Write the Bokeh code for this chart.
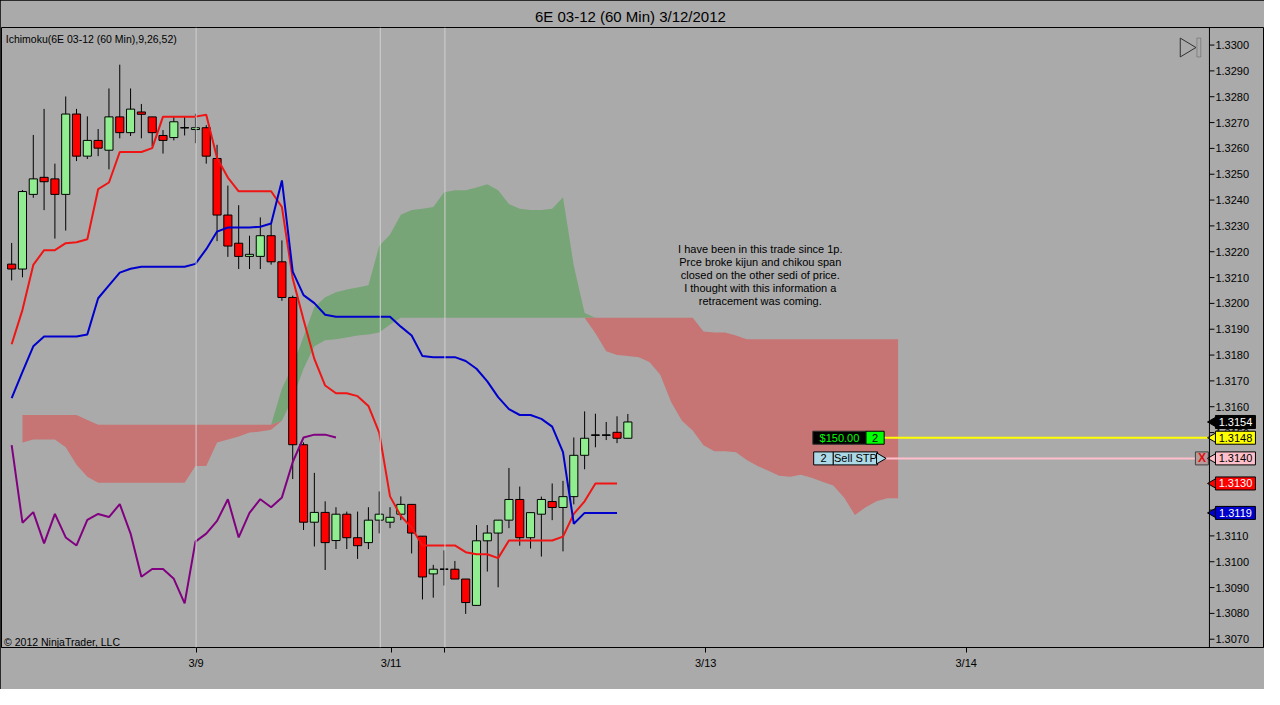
import numpy as np
from bokeh.plotting import figure
from bokeh.models import Range1d, FixedTicker, Label, Span, BoxAnnotation
from bokeh.core.properties import value
from bokeh.embed import file_html
from bokeh.resources import INLINE

# ---------------- data ----------------
opens = [1.32152, 1.32133, 1.32422, 1.32488, 1.32482, 1.32422, 1.32733, 1.32570, 1.32631, 1.32593,
         1.32722, 1.32661, 1.32741, 1.32722, 1.32650, 1.32642, 1.32680, 1.32673, 1.32680, 1.32561,
         1.32342, 1.32233, 1.32182, 1.32182, 1.32262, 1.32161, 1.32023, 1.31453, 1.31153, 1.31191,
         1.31082, 1.31184, 1.31093, 1.31074, 1.31161, 1.31153, 1.31184, 1.31222, 1.31099, 1.30953,
         1.30971, 1.30971, 1.30933, 1.30831, 1.31081, 1.31111, 1.31161, 1.31241, 1.31093, 1.31184,
         1.31233, 1.31210, 1.31252, 1.31412, 1.31490, 1.31490, 1.31501, 1.31478]
highs = [1.32234, 1.32439, 1.32652, 1.32753, 1.32541, 1.32801, 1.32753, 1.32724, 1.32675, 1.32832,
         1.32924, 1.32832, 1.32772, 1.32722, 1.32671, 1.32722, 1.32722, 1.32734, 1.32690, 1.32614,
         1.32456, 1.32380, 1.32262, 1.32333, 1.32310, 1.32244, 1.32030, 1.31462, 1.31344, 1.31234,
         1.31211, 1.31194, 1.31194, 1.31211, 1.31272, 1.31211, 1.31253, 1.31222, 1.31099, 1.30988,
         1.31044, 1.31003, 1.30933, 1.31142, 1.31142, 1.31161, 1.31363, 1.31291, 1.31190, 1.31252,
         1.31303, 1.31313, 1.31481, 1.31582, 1.31573, 1.31541, 1.31563, 1.31572]
lows = [1.32089, 1.32101, 1.32409, 1.32361, 1.32251, 1.32282, 1.32551, 1.32559, 1.32570, 1.32519,
        1.32639, 1.32648, 1.32639, 1.32608, 1.32580, 1.32631, 1.32650, 1.32620, 1.32541, 1.32241,
        1.32180, 1.32133, 1.32133, 1.32133, 1.32150, 1.32010, 1.31320, 1.31123, 1.31059, 1.30968,
        1.31049, 1.31049, 1.31011, 1.31049, 1.31110, 1.31130, 1.31161, 1.31032, 1.30854, 1.30861,
        1.30908, 1.30933, 1.30798, 1.30831, 1.30962, 1.30901, 1.31130, 1.31062, 1.31051, 1.31020,
        1.31161, 1.31040, 1.31222, 1.31358, 1.31443, 1.31471, 1.31459, 1.31478]
closes = [1.32133, 1.32433, 1.32482, 1.32471, 1.32422, 1.32733, 1.32570, 1.32631, 1.32601, 1.32722,
          1.32661, 1.32752, 1.32732, 1.32661, 1.32631, 1.32703, 1.32680, 1.32680, 1.32570, 1.32342,
          1.32222, 1.32182, 1.32190, 1.32262, 1.32161, 1.32023, 1.31453, 1.31153, 1.31191, 1.31074,
          1.31184, 1.31093, 1.31062, 1.31161, 1.31184, 1.31172, 1.31222, 1.31111, 1.30941, 1.30971,
          1.30971, 1.30933, 1.30842, 1.31081, 1.31111, 1.31161, 1.31241, 1.31093, 1.31190, 1.31241,
          1.31210, 1.31252, 1.31412, 1.31478, 1.31490, 1.31490, 1.31478, 1.31541]

tenkan = [1.31842, 1.31975, 1.32149, 1.32206, 1.32206, 1.32233, 1.32237, 1.32248, 1.32442, 1.32468,
          1.32586, 1.32586, 1.32586, 1.32601, 1.32723, 1.32723, 1.32723, 1.32723, 1.32730, 1.32563,
          1.32487, 1.32434, 1.32434, 1.32434, 1.32434, 1.32373, 1.32096, 1.31937, 1.31785, 1.31682,
          1.31652, 1.31652, 1.31641, 1.31603, 1.31500, 1.31253, 1.31177, 1.31132, 1.31063, 1.31063,
          1.31063, 1.31063, 1.31037, 1.31029, 1.31029, 1.31014, 1.31082, 1.31082, 1.31082, 1.31082,
          1.31082, 1.31097, 1.31185, 1.31234, 1.31303, 1.31303, 1.31303]
kijun = [1.31633, 1.31735, 1.31834, 1.31872, 1.31872, 1.31872, 1.31872, 1.31880, 1.32020, 1.32070,
         1.32119, 1.32134, 1.32142, 1.32142, 1.32142, 1.32142, 1.32142, 1.32153, 1.32210, 1.32278,
         1.32294, 1.32294, 1.32294, 1.32297, 1.32309, 1.32476, 1.32123, 1.32032, 1.32001, 1.31956,
         1.31948, 1.31948, 1.31948, 1.31948, 1.31948, 1.31948, 1.31910, 1.31876, 1.31796, 1.31792,
         1.31792, 1.31792, 1.31777, 1.31747, 1.31698, 1.31637, 1.31591, 1.31568, 1.31568, 1.31553,
         1.31523, 1.31424, 1.31147, 1.31189, 1.31189, 1.31189, 1.31189]
chikou = [1.31451, 1.31151, 1.31192, 1.31071, 1.31185, 1.31094, 1.31063, 1.31162, 1.31185, 1.31173,
          1.31223, 1.31109, 1.30942, 1.30972, 1.30972, 1.30934, 1.30839, 1.31078, 1.31109, 1.31158,
          1.31242, 1.31094, 1.31189, 1.31242, 1.31211, 1.31249, 1.31386, 1.31481, 1.31492, 1.31492,
          1.31481]

# cloud, starting at bar position 1 and running 26 bars past the last bar
cloud_start = 1
senkou_a = [1.31462, 1.31473, 1.31473, 1.31473, 1.31443, 1.31375, 1.31329, 1.31306, 1.31306, 1.31306,
            1.31306, 1.31306, 1.31306, 1.31306, 1.31306, 1.31306, 1.31371, 1.31371, 1.31462, 1.31473,
            1.31485, 1.31500, 1.31504, 1.31511, 1.31671, 1.31758, 1.31872, 1.31986, 1.32024, 1.32043,
            1.32054, 1.32062, 1.32070, 1.32222, 1.32267, 1.32343, 1.32362, 1.32366, 1.32373, 1.32430,
            1.32438, 1.32438, 1.32449, 1.32461, 1.32438, 1.32385, 1.32366, 1.32362, 1.32362, 1.32366,
            1.32411, 1.32146, 1.31963, 1.31884, 1.31815, 1.31800, 1.31796, 1.31792, 1.31773, 1.31724,
            1.31618, 1.31546, 1.31508, 1.31451, 1.31428, 1.31428, 1.31424, 1.31394, 1.31371, 1.31352,
            1.31333, 1.31329, 1.31337, 1.31325, 1.31310, 1.31295, 1.31249, 1.31181, 1.31211, 1.31234,
            1.31246, 1.31246]
senkou_b = [1.31568, 1.31568, 1.31568, 1.31568, 1.31568, 1.31568, 1.31549, 1.31530, 1.31530, 1.31530,
            1.31530, 1.31530, 1.31530, 1.31530, 1.31530, 1.31530, 1.31530, 1.31530, 1.31530, 1.31530,
            1.31530, 1.31530, 1.31530, 1.31530, 1.31546, 1.31633, 1.31747, 1.31834, 1.31857, 1.31861,
            1.31868, 1.31876, 1.31880, 1.31887, 1.31918, 1.31944, 1.31944, 1.31944, 1.31944, 1.31944,
            1.31944, 1.31944, 1.31944, 1.31944, 1.31944, 1.31944, 1.31944, 1.31944, 1.31944, 1.31944,
            1.31944, 1.31944, 1.31944, 1.31944, 1.31944, 1.31944, 1.31944, 1.31944, 1.31944, 1.31944,
            1.31944, 1.31944, 1.31944, 1.31891, 1.31887, 1.31887, 1.31876, 1.31861, 1.31861, 1.31861,
            1.31861, 1.31861, 1.31861, 1.31861, 1.31861, 1.31861, 1.31861, 1.31861, 1.31861, 1.31861,
            1.31861, 1.31861]

session_breaks = [17.06, 34.1, 40.08]
date_tick_pos = [17.06, 35.1, 40.08, 64.2, 88.3]
date_tick_labels = ["3/9", "3/11", "", "3/13", "3/14"]
price_ticks = [1.3070, 1.3080, 1.3090, 1.3100, 1.3110, 1.3120, 1.3130, 1.3140, 1.3150, 1.3160,
               1.3170, 1.3180, 1.3190, 1.3200, 1.3210, 1.3220, 1.3230, 1.3240, 1.3250, 1.3260,
               1.3270, 1.3280, 1.3290, 1.3300]

entry_price = 1.3148
stop_price = 1.3140
pnl_text = "$150.00"
position_qty = "2"
order_text = "Sell STP"

title_text = "6E 03-12 (60 Min)  3/12/2012"
indicator_text = "Ichimoku(6E 03-12 (60 Min),9,26,52)"
copyright_text = "\u00a9 2012 NinjaTrader, LLC"
note_text = ("I have been in this trade since 1p.\nPrce broke kijun and chikou span\n"
             "closed on the other sedi of price.\nI thought with this information a\n"
             "retracement was coming.")

# ---------------- figure ----------------
FONT = "Liberation Sans"
BG = "#aaaaaa"
W, H = 1264, 689
X0, X1 = -0.94, 115.8          # includes the price-scale band on the right
AXIS_X = 110.8                 # where the price scale sits
Y0, Y1 = 1.30668, 1.33068
PX = (X1 - X0) / (W - 2)       # one pixel in x data units

p = figure(width=W, height=H, output_backend="svg", toolbar_location=None, tools="",
           x_range=Range1d(X0, X1), y_range=Range1d(Y0, Y1), y_axis_location=None,
           min_border_left=1, min_border_right=1, min_border_top=27, min_border_bottom=42,
           title=title_text)
p.background_fill_color = BG
p.border_fill_color = BG
p.outline_line_color = "black"
p.outline_line_width = 1
p.xgrid.visible = False
p.ygrid.visible = False
p.styles = {"outline": "1px solid #000", "outline-offset": "-1px"}

p.title.align = "center"
p.title.text_font = FONT
p.title.text_font_size = "15px"
p.title.text_font_style = "normal"
p.title.text_color = "black"
p.title.standoff = 6

ax = p.xaxis[0]
ax.axis_line_color = "black"
ax.major_tick_line_color = "black"
ax.minor_tick_line_color = None
ax.major_tick_out = 5
ax.major_tick_in = 0
ax.major_label_text_font = FONT
ax.major_label_text_font_size = "11px"
ax.major_label_text_color = "black"
ax.ticker = FixedTicker(ticks=date_tick_pos)
ax.major_label_overrides = dict(zip(date_tick_pos, date_tick_labels))
ax.major_label_standoff = 4

for s in session_breaks:
    p.add_layout(Span(location=s, dimension="height", line_color="#d0d0d0", line_width=1))

# cloud
a = np.array(senkou_a)
b = np.array(senkou_b)
cx = np.arange(cloud_start, cloud_start + len(a))
p.varea(x=cx, y1=b, y2=np.maximum(a, b), fill_color="#78a578")
p.varea(x=cx, y1=np.minimum(a, b), y2=b, fill_color="#c67474")

# candles
idx = np.arange(len(closes))
o = np.array(opens)
c = np.array(closes)
body_colors = np.where(c > o, "#90ee90", np.where(c < o, "#ff0000", "#000000")).tolist()
p.segment(x0=idx, y0=highs, x1=idx, y1=lows, line_color="black", line_width=1)
p.vbar(x=idx, width=0.75, top=np.maximum(o, c), bottom=np.minimum(o, c),
       fill_color=body_colors, line_color="black", line_width=1)
doji = c == o
p.segment(x0=idx[doji] - 0.375, y0=o[doji], x1=idx[doji] + 0.375, y1=o[doji],
          line_color="black", line_width=1)

# indicator lines
p.line(np.arange(len(tenkan)), tenkan, line_color="#f01414", line_width=2)
p.line(np.arange(len(kijun)), kijun, line_color="#0000cc", line_width=2)
p.line(np.arange(len(chikou)), chikou, line_color="#800080", line_width=2)

# order lines and boxes
p.segment(x0=[80.7], y0=[entry_price], x1=[AXIS_X], y1=[entry_price], line_color="#ffff00", line_width=2)
p.segment(x0=[80.7], y0=[stop_price], x1=[109.5], y1=[stop_price], line_color="#ffc0cb", line_width=2)
p.rect(x=[76.57], y=[entry_price], width=[4.92], height=[13], height_units="screen",
       fill_color="black", line_color="#303030")
p.rect(x=[79.87], y=[entry_price], width=[1.68], height=[13], height_units="screen",
       fill_color="#00ff00", line_color="black")
p.rect(x=[75.1], y=[stop_price], width=[1.82], height=[13], height_units="screen",
       fill_color="#add8e6", line_color="black")
p.rect(x=[78.05], y=[stop_price], width=[4.1], height=[13], height_units="screen",
       fill_color="#add8e6", line_color="black")
p.scatter(x=[80.3], y=[stop_price], marker="triangle", size=11, angle=-np.pi / 2,
          fill_color="#add8e6", line_color="black")
p.rect(x=[110.1], y=[stop_price], width=[1.2], height=[13], height_units="screen",
       fill_color="#b89a9a", line_color="#404040")
p.text(x=[76.57, 79.87, 75.1, 78.05], y=[entry_price, entry_price, stop_price, stop_price],
       text=[pnl_text, position_qty, position_qty, order_text],
       text_color=["#00ff00", "black", "black", "black"],
       text_align="center", text_baseline="middle", text_font=value(FONT), text_font_size="11px")
p.text(x=[110.1], y=[stop_price], text=["X"], text_color="#e01010", text_align="center",
       text_baseline="middle", text_font=value(FONT), text_font_size="12px", text_font_style="bold")

# top-right icon
p.patch(x=[108.1, 108.1, 109.55], y=[1.33027, 1.32954, 1.329905], fill_color=None,
        line_color="#303030", line_width=1)
p.add_layout(BoxAnnotation(left=109.64, right=110.0, bottom=1.32954, top=1.33027,
                           fill_color=None, line_color="#303030", line_width=1))

# texts
p.add_layout(Label(x=-0.55, y=1.33023, text=indicator_text, text_font=FONT, text_font_size="10.5px",
                   text_baseline="middle", text_color="black"))
p.add_layout(Label(x=-0.7, y=1.30691, text=copyright_text, text_font=FONT, text_font_size="10.5px",
                   text_baseline="middle", text_color="black"))
p.add_layout(Label(x=69.25, y=1.32111, text=note_text, text_font=FONT, text_font_size="11px",
                   text_align="center", text_baseline="middle", text_color="black",
                   text_line_height=1.08))

# ---------------- price scale on the right ----------------
p.add_layout(Span(location=AXIS_X, dimension="height", line_color="black", line_width=1))
n = len(price_ticks)
p.segment(x0=[AXIS_X] * n, y0=price_ticks, x1=[AXIS_X + 5 * PX] * n, y1=price_ticks,
          line_color="black", line_width=1)
p.text(x=[AXIS_X + 6 * PX] * n, y=price_ticks, text=[f"{t:.4f}" for t in price_ticks],
       text_align="left", text_baseline="middle", text_font=value(FONT), text_font_size="11px",
       text_color="black")

# price tags
tag_vals = [closes[-1], entry_price, stop_price, tenkan[-1], kijun[-1]]
tag_fill = ["black", "#ffff00", "#ffc0cb", "#ff0000", "#0000cd"]
tag_text_color = ["white", "black", "black", "white", "white"]
m = len(tag_vals)
p.scatter(x=[AXIS_X + 5 * PX] * m, y=tag_vals, marker="triangle", size=12, angle=np.pi / 2,
          fill_color=tag_fill, line_color="black", line_width=1)
p.rect(x=[AXIS_X + 26 * PX] * m, y=tag_vals, width=[40 * PX] * m, height=[13] * m,
       height_units="screen", fill_color=tag_fill, line_color="black", line_width=1)
p.text(x=[AXIS_X + 26 * PX] * m, y=tag_vals, text=[f"{v:.4f}" for v in tag_vals],
       text_align="center", text_baseline="middle", text_font=value(FONT), text_font_size="11px",
       text_color=tag_text_color)

open("out.html", "w").write(file_html(p, INLINE))
